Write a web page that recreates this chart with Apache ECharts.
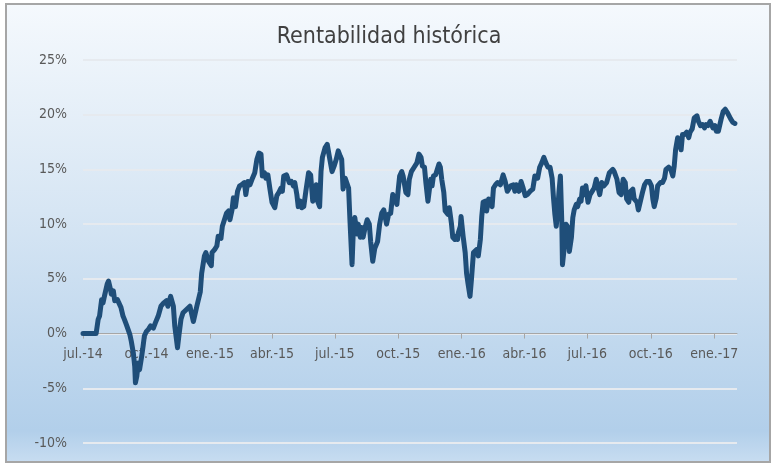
<!DOCTYPE html>
<html>
<head>
<meta charset="utf-8">
<title>Rentabilidad histórica</title>
<script src="https://cdn.jsdelivr.net/npm/echarts@6/dist/echarts.min.js"></script>
<style>
  html, body { margin: 0; padding: 0; background: #fff; }
  #chart { width: 778px; height: 465px; }
</style>
</head>
<body>
<div id="chart"></div>
<script>
// days since 1 jul 2014
const days = [
    0, 19, 22, 24, 27, 29, 31, 35, 37, 40, 41, 44, 46, 50, 52, 55, 58, 60, 63, 65,
    68, 70, 73, 75, 76, 78, 80, 82, 85, 87, 89, 92, 95, 98, 102, 105, 109, 113, 117, 121,
    123, 127, 131, 133, 137, 139, 142, 145, 150, 155, 160, 165, 170, 172, 176, 178, 182, 186, 187, 191,
    194, 196, 200, 202, 205, 208, 211, 213, 216, 218, 221, 224, 227, 230, 234, 236, 239, 242, 245, 247,
    249, 252, 255, 258, 260, 263, 265, 268, 271, 274, 278, 281, 284, 287, 289, 291, 295, 299, 302, 305,
    307, 310, 312, 315, 317, 320, 323, 327, 330, 333, 335, 338, 340, 343, 345, 347, 351, 354, 357, 361,
    364, 367, 370, 373, 375, 377, 380, 382, 385, 387, 390, 392, 394, 397, 399, 402, 404, 406, 409, 412,
    415, 417, 420, 423, 427, 430, 433, 436, 440, 443, 446, 449, 452, 455, 457, 459, 462, 464, 468, 471,
    473, 476, 480, 484, 487, 490, 492, 495, 497, 500, 502, 504, 506, 508, 511, 513, 516, 518, 520, 523,
    525, 529, 531, 534, 536, 539, 541, 543, 544, 547, 548, 551, 554, 556, 558, 561, 563, 566, 568, 571,
    573, 576, 578, 580, 583, 585, 588, 590, 593, 595, 598, 601, 605, 609, 612, 615, 617, 620, 624, 626,
    628, 632, 635, 638, 641, 644, 648, 652, 655, 659, 662, 665, 668, 671, 674, 677, 680, 682, 684, 686,
    688, 690, 692, 694, 695, 698, 700, 703, 705, 708, 710, 712, 715, 717, 720, 722, 724, 727, 729, 732,
    735, 738, 741, 744, 746, 749, 752, 755, 759, 763, 768, 770, 774, 777, 780, 783, 786, 788, 791, 794,
    797, 799, 803, 805, 808, 811, 814, 817, 821, 824, 826, 828, 831, 833, 837, 840, 843, 845, 849, 852,
    855, 857, 859, 862, 864, 867, 869, 872, 875, 878, 880, 883, 886, 890, 892, 895, 898, 901, 903, 906,
    909, 911, 913, 916, 918, 921, 925, 928, 931, 934, 936, 939, 942, 945
]
// rentabilidad acumulada, %
const returns = [
    0.0, 0.0, 1.3, 1.6, 3.1, 2.8, 3.4, 4.5, 4.8, 4.0, 3.6, 3.9, 3.0, 3.1, 2.8, 2.4, 1.6, 1.3, 0.8, 0.7,
    -0.1, -0.7, -1.8, -3.0, -4.5, -3.9, -2.7, -3.3, -2.1, -1.2, -0.2, 0.2, 0.4, 0.7, 0.5, 1.0, 1.6, 2.5, 2.8, 3.0,
    2.5, 3.4, 2.5, 0.7, -1.3, -0.2, 1.3, 1.9, 2.2, 2.5, 1.1, 2.5, 3.8, 5.5, 7.1, 7.4, 6.6, 6.2, 7.4, 7.7,
    8.0, 8.9, 8.7, 9.8, 10.4, 11.0, 11.2, 10.4, 11.3, 12.4, 11.6, 13.0, 13.5, 13.6, 13.8, 12.7, 13.9, 13.6, 14.1, 14.4,
    14.7, 15.9, 16.5, 16.4, 14.4, 14.7, 14.2, 14.5, 13.2, 12.0, 11.5, 12.6, 12.9, 13.3, 13.0, 14.4, 14.5, 13.8, 13.9, 13.5,
    13.8, 12.7, 11.6, 12.1, 11.5, 11.6, 13.0, 14.7, 14.5, 12.1, 12.0, 13.6, 12.1, 11.6, 14.8, 16.1, 17.0, 17.3, 16.2, 14.8,
    15.3, 15.9, 16.7, 16.2, 15.9, 13.2, 14.2, 14.2, 13.3, 10.3, 6.3, 9.7, 10.6, 9.1, 10.0, 8.8, 9.7, 8.8, 9.7, 10.4,
    10.0, 8.4, 6.6, 7.8, 8.4, 10.0, 11.0, 11.3, 10.0, 10.9, 11.0, 12.7, 12.4, 11.8, 13.2, 14.4, 14.8, 14.4, 12.9, 12.7,
    14.1, 14.8, 15.2, 15.6, 16.4, 16.1, 15.3, 15.2, 13.8, 12.1, 12.1, 14.1, 13.5, 14.4, 14.5, 14.4, 15.5, 15.2, 14.1, 12.9,
    11.2, 10.9, 11.5, 10.1, 8.8, 8.6, 8.9, 8.6, 9.2, 9.8, 10.7, 8.9, 7.4, 5.5, 4.6, 3.4, 4.9, 7.4, 7.4, 7.7,
    7.1, 8.6, 10.7, 12.0, 12.1, 11.2, 12.3, 12.1, 11.6, 13.3, 13.6, 13.8, 13.6, 14.5, 13.9, 13.0, 13.0, 13.5, 13.6, 13.0,
    13.6, 13.0, 13.9, 13.3, 12.6, 12.7, 13.0, 13.2, 14.4, 14.2, 15.2, 15.6, 16.1, 15.6, 15.2, 15.2, 14.2, 12.4, 10.9, 9.8,
    11.2, 13.0, 14.4, 10.3, 6.3, 8.1, 10.0, 9.7, 7.5, 8.8, 10.6, 11.3, 11.8, 11.6, 12.3, 12.1, 13.3, 12.7, 13.5, 12.0,
    12.7, 13.0, 13.3, 14.1, 13.5, 12.7, 13.8, 13.5, 13.8, 14.7, 15.0, 14.8, 14.1, 12.9, 12.7, 14.1, 13.8, 12.3, 12.0, 13.0,
    13.2, 12.3, 12.0, 11.3, 12.1, 12.9, 13.6, 13.9, 13.9, 13.5, 12.3, 11.6, 12.4, 13.5, 13.8, 13.8, 14.2, 15.0, 15.2, 15.0,
    14.4, 15.3, 16.8, 17.9, 18.0, 16.8, 18.2, 18.2, 18.4, 17.9, 18.4, 18.7, 19.7, 19.9, 19.4, 19.0, 19.1, 18.8, 19.1, 19.0,
    19.4, 19.1, 18.8, 19.0, 18.5, 18.5, 19.6, 20.3, 20.5, 20.2, 20.2, 19.6, 19.3, 19.2
]
// quarter starts, days since 1 jul 2014
const tickDays = [0, 92, 184, 274, 365, 457, 549, 640, 731, 823, 915]
const tickLabels = ['jul.-14', 'oct.-14', 'ene.-15', 'abr.-15', 'jul.-15', 'oct.-15',
    'ene.-16', 'abr.-16', 'jul.-16', 'oct.-16', 'ene.-17']

const Y_MIN = -10
const Y_MAX = 25
const GRID = { left: 83, right: 41, top: 60, bottom: 22 }
const HEIGHT = 465

const FONT = '"Liberation Sans Narrow", "DejaVu Sans Condensed", sans-serif'
const chart = echarts.init(document.getElementById('chart'), null, { renderer: 'canvas' })

const labelOf = v => tickLabels[tickDays.indexOf(Math.round(v))] || ''
// lift the category axis from the grid bottom up to the 0% line
const plotH = HEIGHT - GRID.top - GRID.bottom
const zeroOffset = -plotH * (0 - Y_MIN) / (Y_MAX - Y_MIN)

chart.setOption({
    animation: false,
    backgroundColor: '#fff',
    graphic: [{
        type: 'rect',
        z: -10,
        silent: true,
        shape: { x: 6, y: 4, width: 764, height: 458 },
        style: {
            fill: new echarts.graphic.LinearGradient(0, 0, 0, 1, [
                { offset: 0, color: '#f5f9fd' },
                { offset: 0.45, color: '#d7e6f4' },
                { offset: 0.93, color: '#b2cfea' },
                { offset: 1, color: '#c8ddf1' },
            ]),
            stroke: '#a6a6a6',
            lineWidth: 2,
        },
    }],
    title: {
        text: 'Rentabilidad histórica',
        left: 'center',
        top: 21,
        textStyle: { fontFamily: FONT, fontSize: 23, fontWeight: 'normal', color: '#404040' },
    },
    grid: GRID,
    xAxis: {
        type: 'value',
        position: 'bottom',
        offset: zeroOffset,
        min: 0,
        max: 948,
        axisLine: { onZero: false, lineStyle: { color: '#a6a6a6', width: 1 } },
        axisTick: { show: true, length: 5, customValues: tickDays, lineStyle: { color: '#a6a6a6' } },
        axisLabel: {
            customValues: tickDays,
            formatter: labelOf,
            margin: 14,
            fontFamily: FONT,
            fontSize: 14,
            color: '#595959',
        },
        splitLine: { show: false },
    },
    yAxis: {
        type: 'value',
        min: Y_MIN,
        max: Y_MAX,
        interval: 5,
        axisLine: { show: false },
        axisTick: { show: false },
        axisLabel: {
            formatter: '{value}%',
            margin: 16,
            fontFamily: FONT,
            fontSize: 14,
            color: '#595959',
        },
        splitLine: { lineStyle: { color: '#e6eaef', width: 2 } },
    },
    series: [{
        type: 'line',
        data: days.map((d, i) => [d, returns[i]]),
        symbol: 'none',
        lineStyle: { color: '#1f4e79', width: 5, join: 'round', cap: 'round' },
        z: 5,
    }],
})
</script>
</body>
</html>
